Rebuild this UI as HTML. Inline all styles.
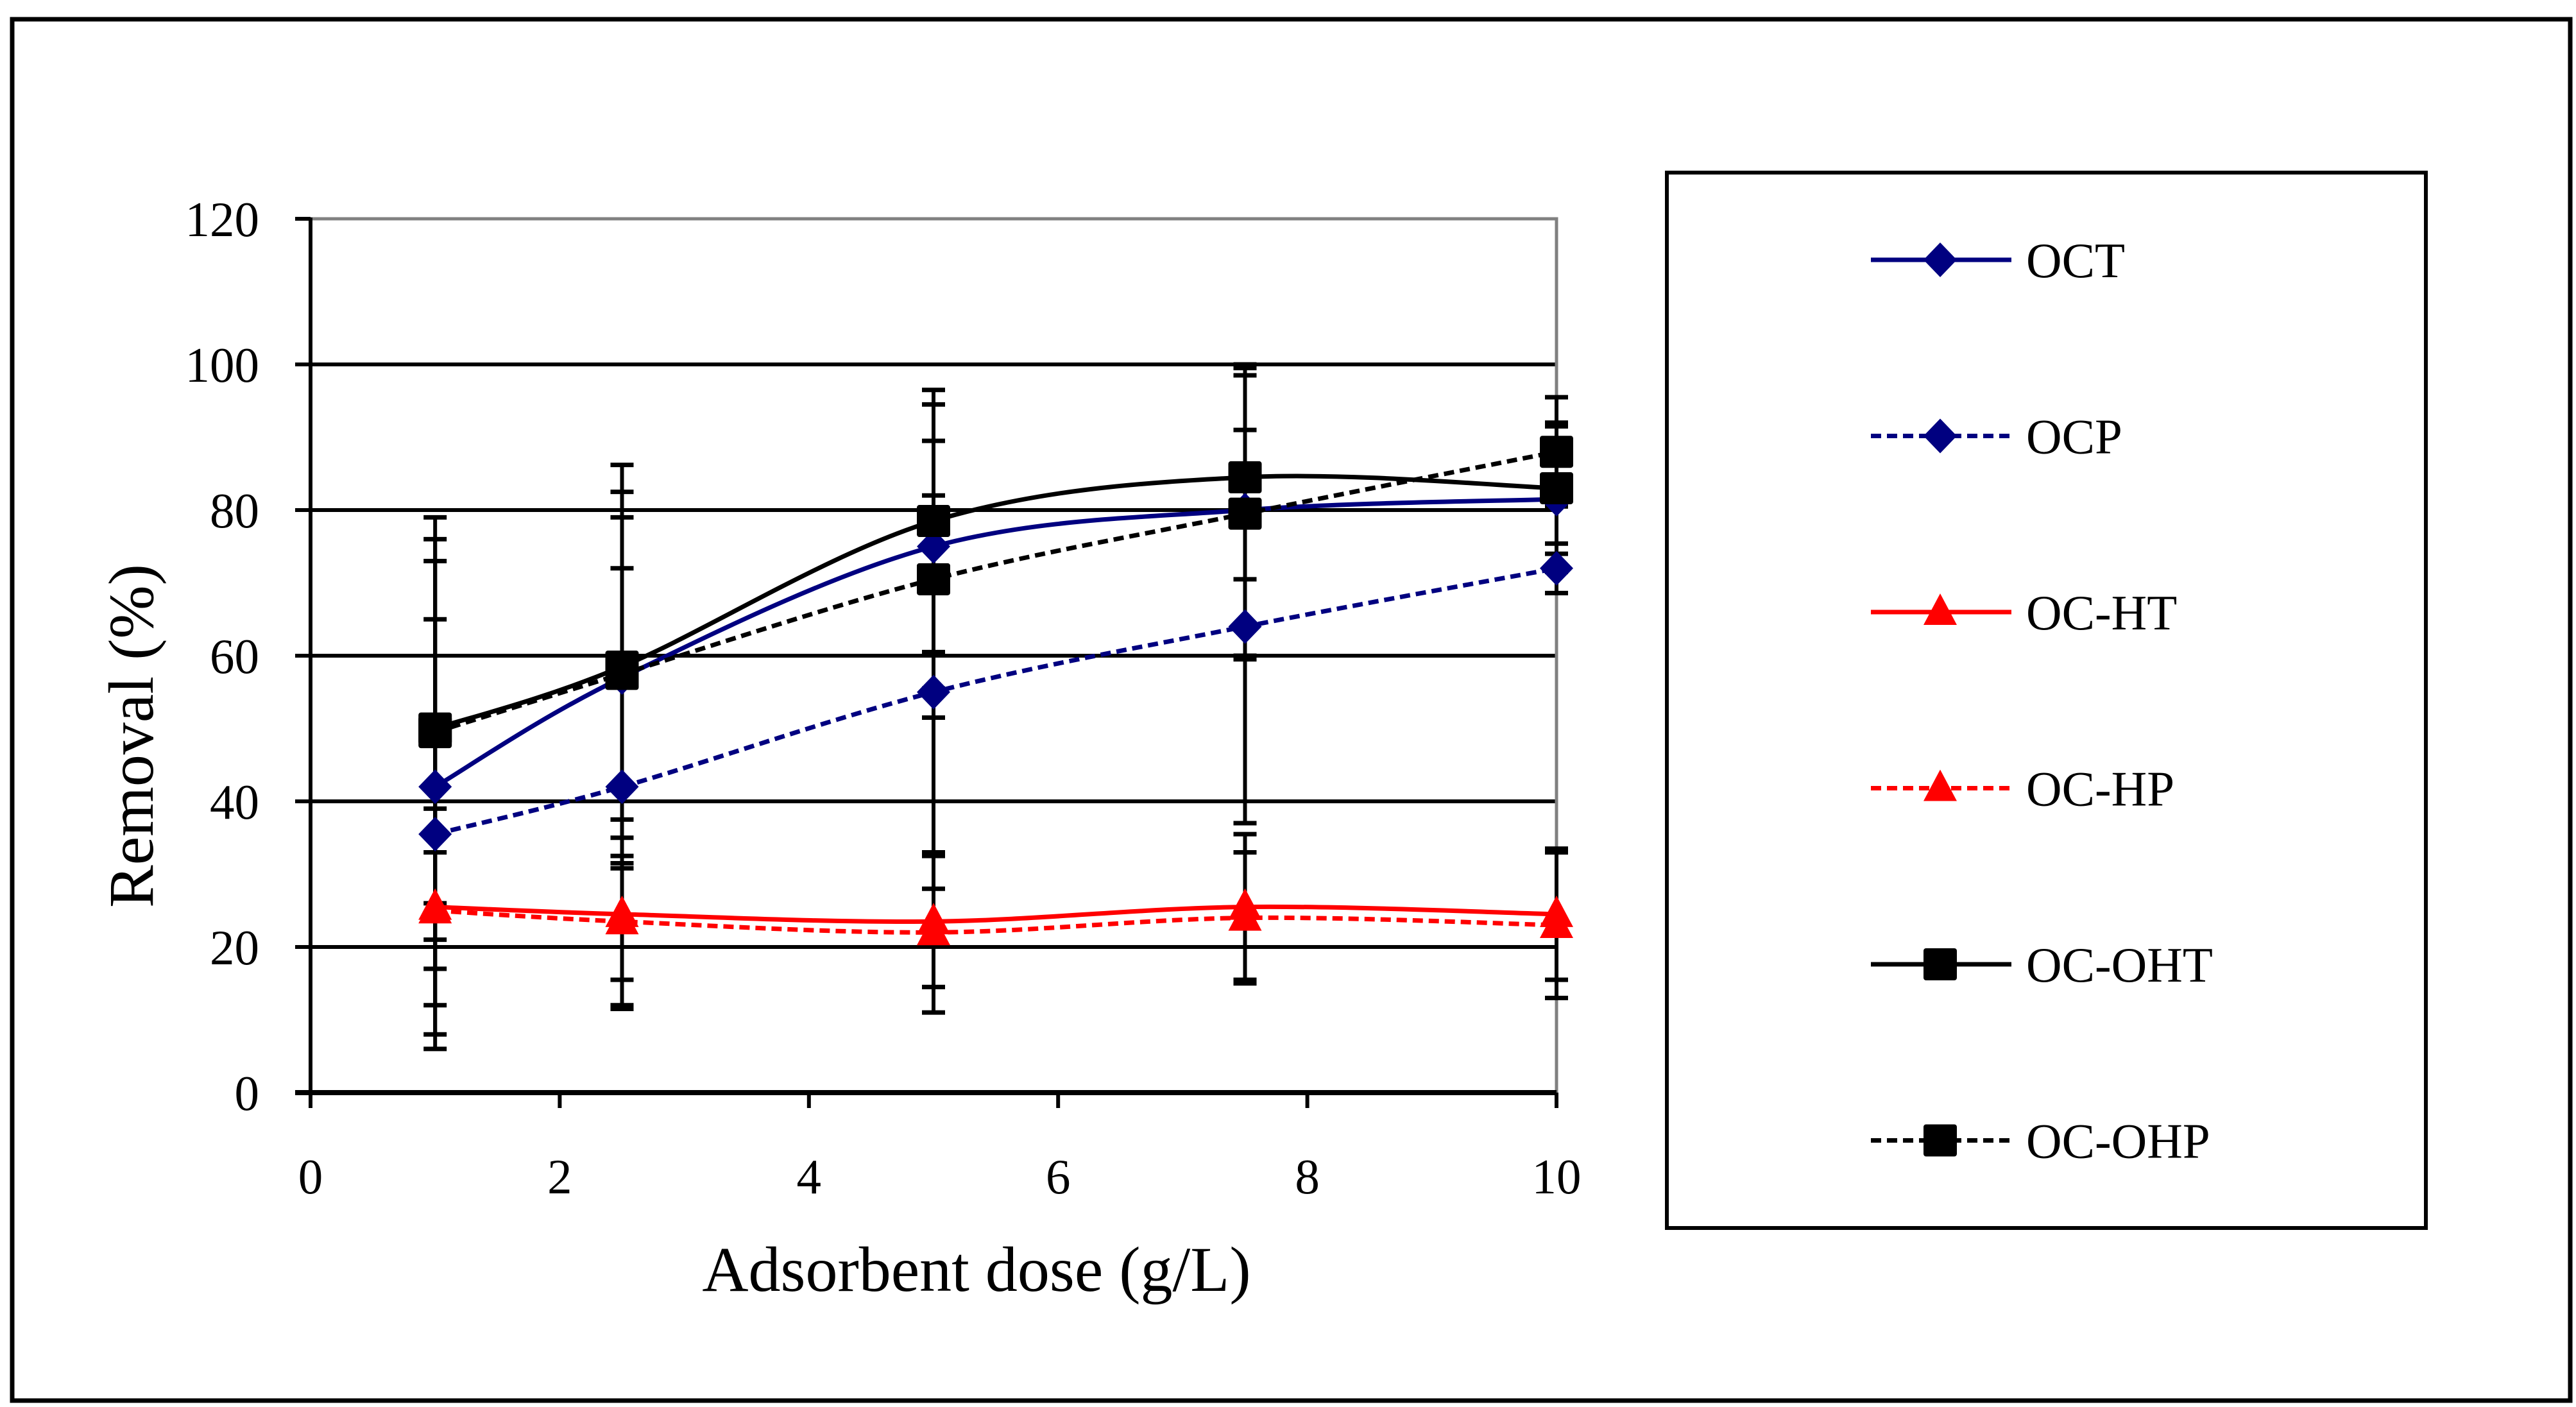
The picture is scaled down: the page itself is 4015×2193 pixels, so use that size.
<!DOCTYPE html>
<html><head><meta charset="utf-8"><style>
html,body{margin:0;padding:0;background:#fff;}
svg{display:block;font-family:"Liberation Serif",serif;}
</style></head><body>
<svg id="chart" width="4015" height="2193" viewBox="0 0 4015 2193" xmlns="http://www.w3.org/2000/svg">
<rect x="0" y="0" width="4015" height="2193" fill="#fff"/>
<rect x="19" y="30" width="3987" height="2153" fill="none" stroke="#000" stroke-width="7"/>
<g id="grid"></g>
<g id="axes"></g>
<g id="errs"></g>
<g id="series"></g>
<text x="1522" y="2012" font-size="100" text-anchor="middle">Adsorbent  dose (g/L)</text>
<text transform="translate(238,1147) rotate(-90)" font-size="100" text-anchor="middle">Removal (%)</text>
<rect x="2598" y="269" width="1183" height="1645" fill="#fff" stroke="#000" stroke-width="6"/>
<g id="legend"></g>
</svg>
<script>
const xVals = [1, 2.5, 5, 7.5, 10];
const names = ["OCT", "OCP", "OC-HT", "OC-HP", "OC-OHT", "OC-OHP"];
const octVals = [42, 57, 75, 80, 81.5];
const ocpVals = [35.5, 42, 55, 64, 72];
const ochtVals = [25.5, 24.5, 23.5, 25.5, 24.5];
const ochpVals = [25, 23.5, 22, 24, 23];
const ocohtVals = [50, 58.5, 78.5, 84.5, 83];
const ocohpVals = [49.5, 57.5, 70.5, 79.5, 88];
const octErr = [34, 22, 19.5, 20, 10];
const ocpErr = [29.5, 30, 27, 27, 3.4];
const ochtErr = [13.5, 13, 9, 10, 9];
const ochpErr = [8, 8, 11, 9, 10];
const ocohtErr = [29, 27.7, 18, 14, 9];
const ocohpErr = [23.5, 25, 19, 20, 7.5];
const yTicks = [0, 20, 40, 60, 80, 100, 120];
const xTicks = [0, 2, 4, 6, 8, 10];

const NS = "http://www.w3.org/2000/svg";
const X0 = 484, X1 = 2426, Y0 = 1703, Y1 = 341;
const sx = v => X0 + (v - 0) / 10 * (X1 - X0);
const sy = v => Y0 - v / 120 * (Y0 - Y1);
function mk(tag, attrs, parent) {
  const e = document.createElementNS(NS, tag);
  for (const k in attrs) e.setAttribute(k, attrs[k]);
  parent.appendChild(e);
  return e;
}
const grid = document.getElementById("grid");
const axes = document.getElementById("axes");
yTicks.forEach(t => {
  if (t > 0 && t < 120) {
    const g = mk("line", {x1: X0, x2: X1, y1: sy(t), y2: sy(t), stroke: "#000", "stroke-width": 6}, grid);
    
    
  }
  const tk = mk("line", {x1: X0 - 24, x2: X0, y1: sy(t), y2: sy(t), stroke: "#000", "stroke-width": 6}, axes);
  
  
  const lb = mk("text", {x: 404, y: sy(t) + 27, "font-size": 77, "text-anchor": "end"}, axes);
  lb.textContent = t;
  
  
});
const topB = mk("polyline", {points: `${X0},${Y1} ${X1},${Y1} ${X1},${Y0}`, fill: "none", stroke: "#808080", "stroke-width": 5}, axes);


const yAx = mk("line", {x1: X0, x2: X0, y1: Y1 - 2, y2: Y0, stroke: "#000", "stroke-width": 6}, axes);


const xAx = mk("line", {x1: X0 - 24, x2: X1, y1: Y0, y2: Y0, stroke: "#000", "stroke-width": 8}, axes);


xTicks.forEach(t => {
  const tk = mk("line", {x1: sx(t), x2: sx(t), y1: Y0, y2: Y0 + 24, stroke: "#000", "stroke-width": 6}, axes);
  
  
  const lb = mk("text", {x: sx(t), y: 1860, "font-size": 77, "text-anchor": "middle"}, axes);
  lb.textContent = t;
  
  
});

const allVals = [octVals, ocpVals, ochtVals, ochpVals, ocohtVals, ocohpVals];
const allErr = [octErr, ocpErr, ochtErr, ochpErr, ocohtErr, ocohpErr];
const colors = ["#000080", "#000080", "#ff0000", "#ff0000", "#000", "#000"];
const dashed = [false, true, false, true, false, true];
const markers = ["diamond", "diamond", "triangle", "triangle", "square", "square"];

const errs = document.getElementById("errs");
allVals.forEach((vals, si) => {
  vals.forEach((v, i) => {
    const x = sx(xVals[i]), e = allErr[si][i];
    const hi = sy(Math.min(v + e, 120)), lo = sy(Math.max(v - e, 0));
    const l = mk("line", {x1: x, x2: x, y1: hi, y2: lo, stroke: "#000", "stroke-width": 6}, errs);
    
    
    [hi, lo].forEach(yy => {
      const c = mk("line", {x1: x - 18, x2: x + 18, y1: yy, y2: yy, stroke: "#000", "stroke-width": 7}, errs);
      
      
    });
  });
});

function smoothPath(pts) {
  let d = `M${pts[0][0]},${pts[0][1]}`;
  for (let i = 0; i < pts.length - 1; i++) {
    const p0 = pts[i - 1] || pts[i], p1 = pts[i], p2 = pts[i + 1], p3 = pts[i + 2] || p2;
    const c1x = p1[0] + (p2[0] - p0[0]) / 6, c1y = p1[1] + (p2[1] - p0[1]) / 6;
    const c2x = p2[0] - (p3[0] - p1[0]) / 6, c2y = p2[1] - (p3[1] - p1[1]) / 6;
    d += ` C${c1x},${c1y} ${c2x},${c2y} ${p2[0]},${p2[1]}`;
  }
  return d;
}
function marker(type, x, y, color, parent) {
  let e;
  if (type === "diamond") e = mk("polygon", {points: `${x},${y-27} ${x+26},${y} ${x},${y+27} ${x-26},${y}`, fill: color}, parent);
  else if (type === "triangle") e = mk("polygon", {points: `${x},${y-29} ${x+26},${y+20} ${x-26},${y+20}`, fill: color}, parent);
  else e = mk("rect", {x: x - 26, y: y - 25, width: 52, height: 50, rx: 4, fill: color}, parent);
  return e;
}
const series = document.getElementById("series");
allVals.forEach((vals, si) => {
  const g = mk("g", {}, series);
  
  
  const pts = vals.map((v, i) => [sx(xVals[i]), sy(v)]);
  const p = mk("path", {d: smoothPath(pts), fill: "none", stroke: colors[si], "stroke-width": 7}, g);
  if (dashed[si]) p.setAttribute("stroke-dasharray", "16 9");
  
  
  pts.forEach(pt => {
    const m = marker(markers[si], pt[0], pt[1], colors[si], g);
    
    
  });
});

const legend = document.getElementById("legend");
names.forEach((n, si) => {
  const y = 405 + si * 274.5;
  const g = mk("g", {}, legend);
  
  
  const l = mk("line", {x1: 2916, x2: 3135, y1: y, y2: y, stroke: colors[si], "stroke-width": 7}, g);
  if (dashed[si]) l.setAttribute("stroke-dasharray", "16 9");
  
  
  const m = marker(markers[si], 3024, y, colors[si], g);
  
  
  const t = mk("text", {x: 3158, y: y + 27, "font-size": 77}, g);
  t.textContent = n;
  
  
});
</script>
</body></html>
